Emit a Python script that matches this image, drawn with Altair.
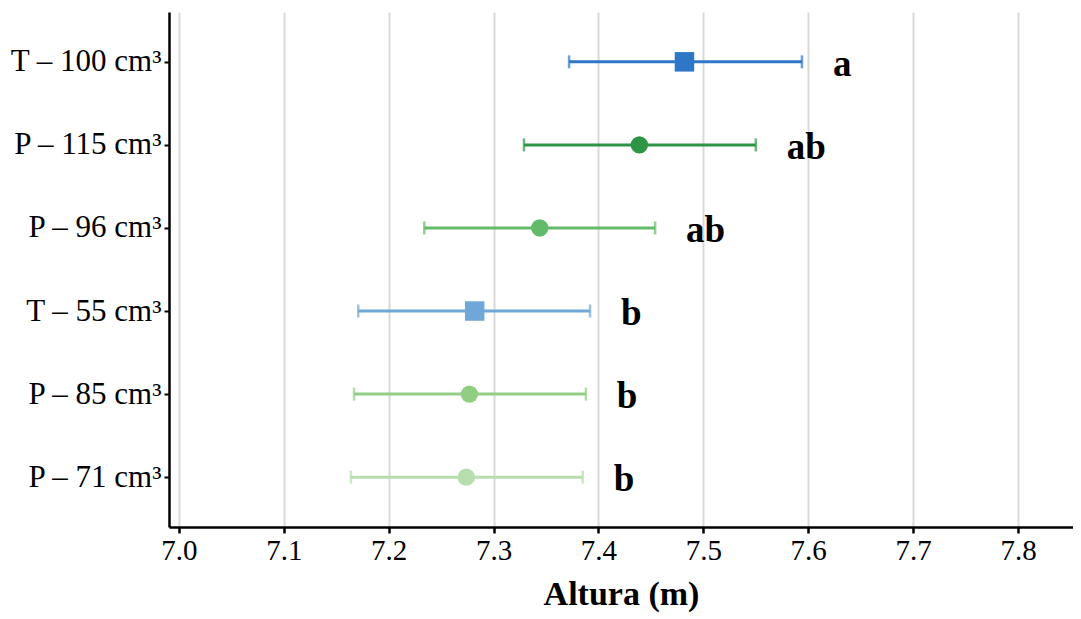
import altair as alt
import pandas as pd

categories = ["T – 100 cm³", "P – 115 cm³", "P – 96 cm³", "T – 55 cm³", "P – 85 cm³", "P – 71 cm³"]
means = [7.482, 7.439, 7.344, 7.282, 7.277, 7.274]
lowers = [7.372, 7.329, 7.234, 7.171, 7.167, 7.164]
uppers = [7.594, 7.550, 7.454, 7.392, 7.388, 7.385]
letters = ["a", "ab", "ab", "b", "b", "b"]
kinds = ["T", "P", "P", "T", "P", "P"]
colors = ["#2E77C6", "#2E9446", "#63BA68", "#6FA8D8", "#92CD84", "#B8DEB0"]
x_ticks = [7.0, 7.1, 7.2, 7.3, 7.4, 7.5, 7.6, 7.7, 7.8]

df = pd.DataFrame({
    "cat": categories, "mean": means, "lower": lowers, "upper": uppers,
    "letter": letters, "kind": kinds,
})

FONT = "Liberation Serif"

y_enc = alt.Y("cat:N", sort=categories,
              scale=alt.Scale(type="point", padding=0.6),
              axis=alt.Axis(title=None, labelFont=FONT, labelFontSize=31, labelColor="black",
                            labelPadding=3, tickSize=5, tickWidth=2, tickColor="black",
                            domainColor="black", domainWidth=2.5, grid=False))
x_scale = alt.Scale(domain=[6.9906, 7.8524], nice=False, zero=False)
color = alt.Color("cat:N", scale=alt.Scale(domain=categories, range=colors), legend=None)

base = alt.Chart(df)

rules = base.mark_rule(strokeWidth=3).encode(
    x=alt.X("lower:Q", scale=x_scale,
            axis=alt.Axis(title="Altura (m)", values=x_ticks, format=".1f",
                          labelFont=FONT, labelFontSize=29, labelColor="black", labelPadding=3,
                          tickSize=6, tickWidth=2.5, tickColor="black",
                          domainColor="black", domainWidth=2.5,
                          grid=True, gridColor="#D9D9D9", gridWidth=2,
                          titleFont=FONT, titleFontSize=34, titleFontWeight="bold",
                          titleColor="black", titlePadding=12)),
    x2="upper:Q", y=y_enc, color=color)

cap_lo = base.mark_tick(orient="vertical", size=13, thickness=2.5).encode(
    x=alt.X("lower:Q", scale=x_scale), y=alt.Y("cat:N", sort=categories), color=color)
cap_hi = base.mark_tick(orient="vertical", size=13, thickness=2.5).encode(
    x=alt.X("upper:Q", scale=x_scale), y=alt.Y("cat:N", sort=categories), color=color)

squares = base.transform_filter(alt.datum.kind == "T").mark_point(
    shape="square", filled=True, size=380, opacity=1).encode(
    x=alt.X("mean:Q", scale=x_scale), y=alt.Y("cat:N", sort=categories), color=color)
circles = base.transform_filter(alt.datum.kind == "P").mark_point(
    shape="circle", filled=True, size=300, opacity=1).encode(
    x=alt.X("mean:Q", scale=x_scale), y=alt.Y("cat:N", sort=categories), color=color)

texts = base.mark_text(align="left", baseline="middle", dx=31, dy=3, font=FONT,
                       fontSize=37, fontWeight="bold", color="black").encode(
    x=alt.X("upper:Q", scale=x_scale), y=alt.Y("cat:N", sort=categories), text="letter:N")

chart = alt.layer(rules, cap_lo, cap_hi, squares, circles, texts).properties(
    width=904, height=515,
    autosize=alt.AutoSizeParams(type="none"),
    padding={"left": 161, "top": 4, "right": 0, "bottom": 91},
    background="white",
).configure_view(stroke=None)

chart.save("out.html", embed_options={"renderer": "svg", "actions": False})
